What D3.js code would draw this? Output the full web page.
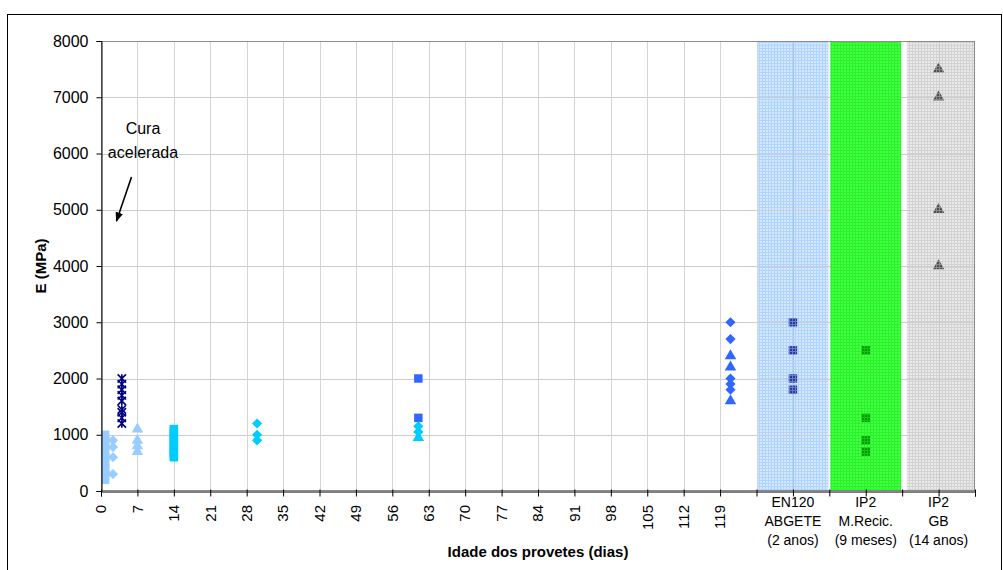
<!DOCTYPE html>
<html>
<head>
<meta charset="utf-8">
<script src="https://cdn.jsdelivr.net/npm/d3@7"></script>
<style>
  html, body { margin: 0; padding: 0; background: #fff; }
  svg { display: block; font-family: "Liberation Sans", Arial, sans-serif; }
</style>
</head>
<body>
<svg id="chart" width="1003" height="570"></svg>
<script>
// Elastic modulus E (MPa) against specimen age (days)
const xTickDays   = [0, 7, 14, 21, 28, 35, 42, 49, 56, 63, 70, 77, 84, 91, 98, 105, 112, 119];
const xTickLabels = ["0","7","14","21","28","35","42","49","56","63","70","77","84","91","98","105","112","119"];
const yTickValues = [0, 1000, 2000, 3000, 4000, 5000, 6000, 7000, 8000];

// Field / reference sections shown as shaded bands to the right of the time axis
const bandNames  = ["EN120 ABGETE", "IP2 M.Recic.", "IP2 GB"];
const bandStart  = [126.2, 140.2, 154.9];
const bandEnd    = [139.8, 153.8, 168];
const bandCentre = [133, 147, 161];
const bandLabels = [
  ["EN120", "ABGETE", "(2 anos)"],
  ["IP2", "M.Recic.", "(9 meses)"],
  ["IP2", "GB", "(14 anos)"]
];

// Series: day of test and measured E values
const curaAceleradaDay = 4;
const curaAcelerada    = [2000, 1900, 1800, 1700, 1600, 1450, 1400, 1300, 1200];
const day1Day     = 0.8;
const day1Squares = [1000, 900, 800, 700, 600, 500, 400, 300, 200];
const day2Day      = 2.3;
const day2Diamonds = [900, 780, 600, 300];
const day7Day       = 7;
const day7Triangles = [1100, 900, 800, 700];
const day14Day     = 14;
const day14Squares = [1100, 1050, 1000, 950, 900, 850, 800, 750, 700, 650, 600];
const day30Day      = 30;
const day30Diamonds = [1200, 1000, 900];
const day61Day       = 61;
const day61Squares   = [2000, 1300];
const day61Diamonds  = [1150, 1050];
const day61Triangles = [950];
const day121Day       = 121;
const day121Diamonds  = [3000, 2700, 2000, 1900, 1800];
const day121Triangles = [2400, 2200, 1600];
const en120Squares  = [3000, 2500, 2000, 1800];
const ip2RecSquares = [2500, 1300, 900, 700];
const ip2GbTriangles = [7500, 7000, 5000, 4000];

const svg = d3.select("#chart");
const L = 101, R = 975, T = 41, B = 491;
const x = d3.scaleLinear().domain([0, 168]).range([L, R]);
const y = d3.scaleLinear().domain([0, 8000]).range([B, T]);

// outer chart frame
svg.append("rect").attr("x", 7.5).attr("y", 14.5).attr("width", 994).attr("height", 600)
  .attr("fill", "#fff").attr("stroke", "#000").attr("stroke-width", 1);

// fine grid textures for the bands
const defs = svg.append("defs");
const bandBg   = ["#d4e9ff", "#44ff44", "#e9e9e9"];
const bandLine = ["#afd4ff", "#2af22a", "#d2d2d2"];
bandLine.forEach((c, i) => {
  const p = defs.append("pattern").attr("id", "tex" + i)
    .attr("patternUnits", "userSpaceOnUse").attr("width", 3).attr("height", 3);
  p.append("path").attr("d", "M0 0.5H3M0.5 0V3")
    .attr("stroke", c).attr("stroke-width", 1).attr("fill", "none");
});

const bands = bandNames.map((n, i) => ({ n, s: bandStart[i], e: bandEnd[i], i }));

function drawBands(list) {
  const g = svg.append("g");
  g.selectAll("rect.bg").data(list).join("rect")
    .attr("x", d => x(d.s)).attr("y", T)
    .attr("width", d => x(d.e) - x(d.s)).attr("height", B - T)
    .attr("fill", d => bandBg[d.i]);
  g.selectAll("rect.tx").data(list).join("rect")
    .attr("x", d => x(d.s)).attr("y", T)
    .attr("width", d => x(d.e) - x(d.s)).attr("height", B - T)
    .attr("fill", d => `url(#tex${d.i})`);
}
drawBands([bands[0], bands[2]]);

// gridlines
const grid = svg.append("g").attr("stroke-width", 1).attr("shape-rendering", "crispEdges");
grid.selectAll("line.h").data(yTickValues.slice(1, -1)).join("line")
  .attr("x1", L).attr("x2", R)
  .attr("y1", d => Math.round(y(d)) + 0.5).attr("y2", d => Math.round(y(d)) + 0.5)
  .attr("stroke", "#cdcdcd");
grid.selectAll("line.v").data(xTickDays.slice(1).concat([126])).join("line")
  .attr("y1", T).attr("y2", B)
  .attr("x1", d => Math.round(x(d)) + 0.5).attr("x2", d => Math.round(x(d)) + 0.5)
  .attr("stroke", "#d4d4d4").attr("stroke-width", 1.4);
grid.selectAll("line.b").data([bandCentre[0], bandCentre[2]]).join("line")
  .attr("y1", T).attr("y2", B)
  .attr("x1", d => Math.round(x(d)) + 0.5).attr("x2", d => Math.round(x(d)) + 0.5)
  .attr("stroke", (d, i) => i === 0 ? "#a6c6e8" : "#c6c6c6");

drawBands([bands[1]]);

// markers
const marks = svg.append("g");
function draw(day, values, type, color, size, rot) {
  marks.append("g").selectAll("path").data(values).join("path")
    .attr("d", d3.symbol().type(type).size(size))
    .attr("transform", d => `translate(${x(day)},${y(d)}) rotate(${rot || 0})`)
    .attr("fill", color);
}
const asterisk = {
  draw(ctx, size) {
    const r = Math.sqrt(size) / 2;
    ctx.moveTo(-r, -r); ctx.lineTo(r, r);
    ctx.moveTo(-r, r); ctx.lineTo(r, -r);
    ctx.moveTo(0, -r); ctx.lineTo(0, r);
  }
};
const SQ = 72, DI = 52, TR = 58;
draw(day1Day, day1Squares, d3.symbolSquare, "#99ccff", SQ);
draw(day2Day, day2Diamonds, d3.symbolSquare, "#99ccff", DI, 45);
draw(day7Day, day7Triangles, d3.symbolTriangle, "#99ccff", TR);
draw(day14Day, day14Squares, d3.symbolSquare, "#00ccff", SQ);
draw(day30Day, day30Diamonds, d3.symbolSquare, "#00ccff", DI, 45);
draw(day61Day, day61Squares, d3.symbolSquare, "#3366ff", SQ);
draw(day61Day, day61Diamonds, d3.symbolSquare, "#00ccff", DI, 45);
draw(day61Day, day61Triangles, d3.symbolTriangle, "#00ccff", TR);
draw(day121Day, day121Diamonds, d3.symbolSquare, "#3366ff", DI, 45);
draw(day121Day, day121Triangles, d3.symbolTriangle, "#3366ff", TR);
draw(bandCentre[0], en120Squares, d3.symbolSquare, "#2a3a9c", SQ);
draw(bandCentre[1], ip2RecSquares, d3.symbolSquare, "#009900", SQ);
draw(bandCentre[2], ip2GbTriangles, d3.symbolTriangle, "#505050", TR);
marks.append("g").selectAll("path").data(curaAcelerada).join("path")
  .attr("d", d3.symbol().type(asterisk).size(70))
  .attr("transform", d => `translate(${x(curaAceleradaDay)},${y(d)})`)
  .attr("fill", "none").attr("stroke", "#000080").attr("stroke-width", 1.6);

// texture over the band markers
const bandMarks = [en120Squares, ip2RecSquares, ip2GbTriangles];
svg.append("g").selectAll("rect").data(bands).join("rect")
  .attr("x", d => x(bandCentre[d.i]) - 6).attr("y", d => y(d3.max(bandMarks[d.i])) - 6)
  .attr("width", 12)
  .attr("height", d => y(d3.min(bandMarks[d.i])) - y(d3.max(bandMarks[d.i])) + 12)
  .attr("fill", d => `url(#tex${d.i})`).attr("opacity", 0.45);

// plot frame
svg.append("rect").attr("x", L + 0.5).attr("y", T + 0.5)
  .attr("width", R - L - 1).attr("height", B - T - 1)
  .attr("fill", "none").attr("stroke", "#8c8c8c");

// y axis
const yAxis = svg.append("g").attr("transform", `translate(${L + 0.5},0)`)
  .call(d3.axisLeft(y).tickValues(yTickValues).tickSize(5).tickPadding(8).tickFormat(d3.format("d")));
yAxis.select(".domain").attr("stroke", "#000");
yAxis.selectAll("text").attr("font-size", 16).attr("fill", "#000")
  .attr("font-family", "Liberation Sans, Arial, sans-serif");

// x axis
const allTicks = d3.range(0, 169, 7);
const xAxis = svg.append("g").attr("transform", `translate(0,${B + 0.5})`)
  .call(d3.axisBottom(x).tickValues(allTicks).tickSize(5).tickFormat(""));
xAxis.select(".domain").attr("stroke", "#000");
xAxis.selectAll(".tick line").attr("y1", -2);

svg.append("g").selectAll("text").data(xTickDays).join("text")
  .attr("transform", d => `translate(${x(d)},${B + 14}) rotate(-90)`)
  .attr("text-anchor", "end").attr("dy", "0.35em")
  .attr("font-size", 15).attr("fill", "#000")
  .text((d, i) => xTickLabels[i]);

const cat = svg.append("g").attr("font-size", 14).attr("fill", "#000").attr("text-anchor", "middle");
bandLabels.forEach((lines, i) => {
  lines.forEach((t, j) => {
    cat.append("text").attr("x", x(bandCentre[i])).attr("y", B + 16 + j * 19).text(t);
  });
});

// axis titles
svg.append("text").attr("x", 538).attr("y", 557).attr("text-anchor", "middle")
  .attr("font-size", 15).attr("font-weight", "bold").text("Idade dos provetes (dias)");
svg.append("text").attr("transform", "translate(46,266) rotate(-90)").attr("text-anchor", "middle")
  .attr("font-size", 15).attr("font-weight", "bold").text("E (MPa)");

// annotation
const ann = svg.append("g").attr("font-size", 16).attr("text-anchor", "middle");
ann.append("text").attr("x", 143).attr("y", 134).text("Cura");
ann.append("text").attr("x", 143).attr("y", 158).text("acelerada");
defs.append("marker").attr("id", "arrow").attr("viewBox", "0 0 10 10")
  .attr("refX", 9).attr("refY", 5).attr("markerWidth", 6).attr("markerHeight", 6)
  .attr("orient", "auto").append("path").attr("d", "M0 1L10 5L0 9Z").attr("fill", "#000");
svg.append("line").attr("x1", 131.5).attr("y1", 177).attr("x2", 116.5).attr("y2", 221)
  .attr("stroke", "#000").attr("stroke-width", 1.6).attr("marker-end", "url(#arrow)");
</script>
</body>
</html>
